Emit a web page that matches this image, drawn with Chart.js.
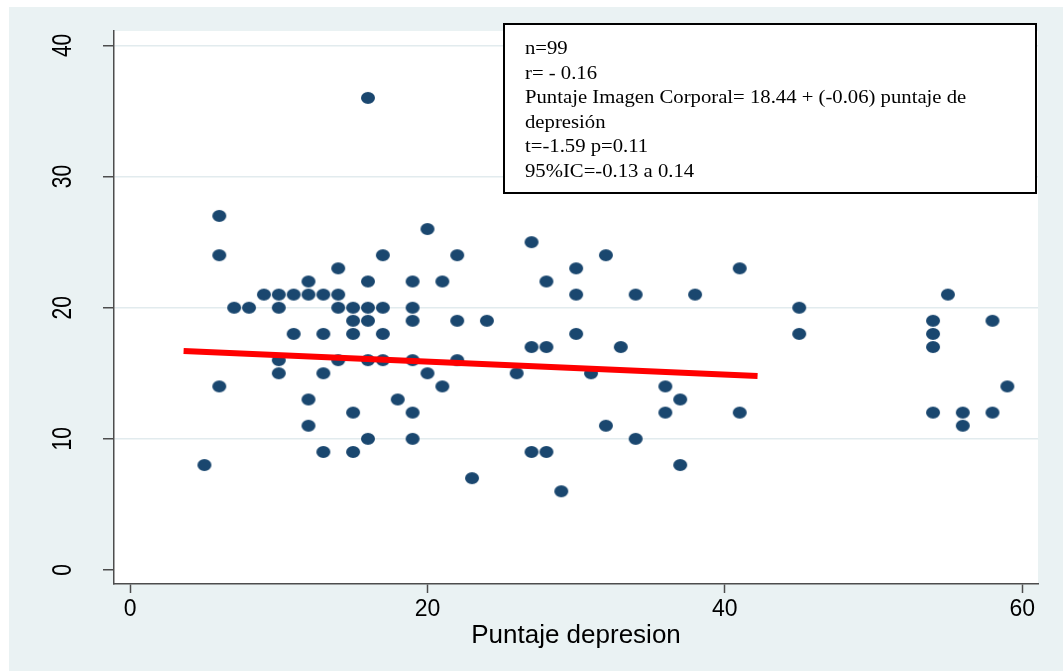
<!DOCTYPE html>
<html>
<head>
<meta charset="utf-8">
<script src="https://cdn.jsdelivr.net/npm/chart.js@4.4.0/dist/chart.umd.min.js"></script>
<style>
  html, body { margin: 0; padding: 0; background: #fff; }
</style>
</head>
<body>
<canvas id="scatter1" width="1063" height="671"></canvas>
<script>
// puntaje depresion (x) and puntaje imagen corporal (y)
const depresion = [5, 6, 6, 6, 7, 8, 9, 10, 10, 10, 10, 11, 11, 12, 12, 12, 12, 13, 13, 13, 13,
    14, 14, 14, 14, 15, 15, 15, 15, 15, 16, 16, 16, 16, 16, 16, 17, 17, 17, 17, 18,
    19, 19, 19, 19, 19, 19, 20, 20, 21, 21, 22, 22, 22, 23, 24, 26, 27, 27, 27, 28, 28, 28, 29,
    30, 30, 30, 31, 32, 32, 33, 34, 34, 36, 36, 37, 37, 38, 41, 41, 45, 45,
    54, 54, 54, 54, 55, 56, 56, 58, 58, 59]
const imagen = [8, 27, 24, 14, 20, 20, 21, 21, 20, 16, 15, 21, 18, 22, 21, 13, 11, 21, 18, 15, 9,
    23, 21, 20, 16, 20, 19, 18, 12, 9, 36, 22, 20, 19, 16, 10, 24, 20, 18, 16, 13,
    22, 20, 19, 16, 12, 10, 26, 15, 22, 14, 24, 19, 16, 7, 19, 15, 25, 17, 9, 22, 17, 9, 6,
    23, 21, 18, 15, 24, 11, 17, 21, 10, 14, 12, 13, 8, 21, 23, 12, 20, 18,
    19, 18, 17, 12, 21, 12, 11, 19, 12, 14]

// fitted line end points
const fitX = [3.6, 42.2]
const fitY = [16.7, 14.8]

const xTicks = [0, 20, 40, 60]
const yTicks = [0, 10, 20, 30, 40]
const xTitle = 'Puntaje depresion'
const statsLines = [
    'n=99',
    'r= - 0.16',
    'Puntaje Imagen Corporal= 18.44 + (-0.06) puntaje de',
    'depresión',
    't=-1.59 p=0.11',
    '95%IC=-0.13 a 0.14'
]

const navy = '#1a476f'
const axisGray = '#4d4d4d'

// stata-like oval marker
const dot = document.createElement('canvas')
dot.width = 16
dot.height = 14
const dctx = dot.getContext('2d')
dctx.fillStyle = navy
dctx.beginPath()
dctx.ellipse(8, 7, 7, 6, 0, 0, Math.PI * 2)
dctx.fill()

const stataLook = {
    id: 'stataLook',
    beforeDraw(chart) {
        const { ctx, chartArea: a } = chart
        ctx.save()
        ctx.fillStyle = '#fff'
        ctx.fillRect(0, 0, chart.width, chart.height)
        ctx.fillStyle = '#eaf2f3'
        ctx.fillRect(9, 7, chart.width - 9, chart.height - 7)
        ctx.fillStyle = '#fff'
        ctx.fillRect(a.left, a.top, a.right - a.left, a.bottom - a.top)
        ctx.restore()
    },
    afterDraw(chart) {
        const { ctx, chartArea: a } = chart
        const ys = chart.scales.y
        ctx.save()
        // rotated y tick labels
        ctx.fillStyle = '#000'
        ctx.font = '21px "Liberation Sans", Arial, sans-serif'
        ctx.textAlign = 'center'
        ctx.textBaseline = 'middle'
        yTicks.forEach(v => {
            ctx.save()
            ctx.translate(63, ys.getPixelForValue(v))
            ctx.rotate(-Math.PI / 2)
            ctx.scale(1, 1.3)
            ctx.fillText(String(v), 0, 0)
            ctx.restore()
        })
        // x axis title
        ctx.font = '26px "Liberation Sans", Arial, sans-serif'
        ctx.textBaseline = 'alphabetic'
        ctx.fillText(xTitle, (a.left + a.right) / 2, 643)
        // stats box
        ctx.fillStyle = '#fff'
        ctx.fillRect(504, 24, 532, 169)
        ctx.strokeStyle = '#000'
        ctx.lineWidth = 2
        ctx.strokeRect(504, 24, 532, 169)
        ctx.fillStyle = '#000'
        ctx.font = '18px "Liberation Serif", "Times New Roman", serif'
        ctx.textAlign = 'left'
        statsLines.forEach((line, i) => {
            ctx.save()
            ctx.translate(525, 54 + i * 24.6)
            ctx.scale(1.15, 1)
            ctx.fillText(line, 0, 0)
            ctx.restore()
        })
        ctx.restore()
    }
}

const cxs = document.getElementById('scatter1').getContext('2d')
const Scatter1 = new Chart(cxs, {
    type: 'scatter',
    data: {
        datasets: [
            {
                type: 'line',
                data: fitX.map((x, i) => ({ x: x, y: fitY[i] })),
                borderColor: '#ff0000',
                borderWidth: 6,
                borderCapStyle: 'butt',
                pointRadius: 0,
                fill: false,
                order: 0
            },
            {
                data: depresion.map((x, i) => ({ x: x, y: imagen[i] })),
                pointStyle: dot,
                pointRadius: 7,
                backgroundColor: navy,
                borderWidth: 0,
                order: 1
            }
        ]
    },
    options: {
        responsive: false,
        animation: false,
        devicePixelRatio: 1,
        layout: {
            padding: { top: 31, right: 25, left: 0, bottom: 0 }
        },
        plugins: {
            legend: { display: false },
            tooltip: { enabled: false }
        },
        scales: {
            x: {
                type: 'linear',
                min: -1.08,
                max: 61.06,
                afterBuildTicks: s => { s.ticks = xTicks.map(v => ({ value: v })) },
                afterFit: s => { s.height = 87 },
                grid: {
                    drawOnChartArea: false,
                    drawTicks: true,
                    tickLength: 9,
                    tickColor: axisGray,
                    tickWidth: 1.5
                },
                border: { color: axisGray, width: 1.5 },
                ticks: {
                    color: '#000',
                    font: { family: '"Liberation Sans", Arial, sans-serif', size: 23 },
                    padding: 3,
                    maxRotation: 0
                }
            },
            y: {
                type: 'linear',
                min: -1.07,
                max: 41.1,
                afterBuildTicks: s => { s.ticks = yTicks.map(v => ({ value: v })) },
                afterFit: s => { s.width = 114 },
                grid: {
                    color: c => (c.tick && c.tick.value === 0) ? 'rgba(0,0,0,0)' : '#e2ebee',
                    lineWidth: 1.5,
                    drawTicks: true,
                    tickLength: 11,
                    tickColor: axisGray,
                    tickWidth: 1.5
                },
                border: { color: axisGray, width: 1.5 },
                ticks: { display: false }
            }
        }
    },
    plugins: [stataLook]
});
</script>
</body>
</html>
